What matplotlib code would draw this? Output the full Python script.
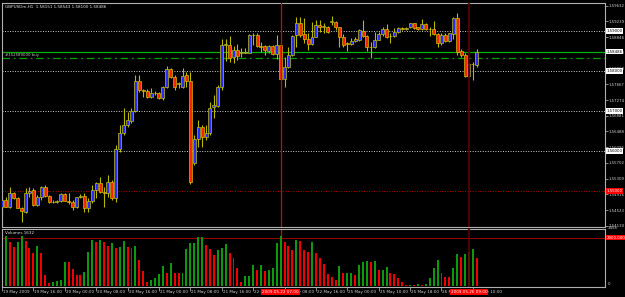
import matplotlib
matplotlib.use('Agg')
import matplotlib.pyplot as plt
from matplotlib.patches import Rectangle
import matplotlib.transforms as mtransforms

# ---------------- data ----------------
title_text = "GBPUSDm,H1  1.58151 1.58543 1.58100 1.58486"
order_label = "#152589000 buy"
volume_title = "Volumes 1632"

opens = [1.5461,1.5478,1.5461,1.5494,1.5482,1.5458,1.5448,1.5496,1.5503,1.5465,
         1.5486,1.5511,1.5488,1.5473,1.5472,1.5476,1.5492,1.5476,1.5472,1.5459,
         1.5486,1.5488,1.5457,1.5475,1.5503,1.5519,1.5498,1.5496,1.5523,1.5482,
         1.5604,1.5646,1.5665,1.5676,1.5700,1.5776,1.5753,1.5751,1.5736,1.5746,
         1.5746,1.5732,1.5761,1.5804,1.5786,1.5768,1.5761,1.5790,1.5776,1.5569,
         1.5629,1.5659,1.5636,1.5644,1.5709,1.5713,1.5759,1.5865,1.5865,1.5836,
         1.5853,1.5844,1.5846,1.5846,1.5890,1.5890,1.5863,1.5863,1.5851,1.5863,
         1.5842,1.5865,1.5779,1.5811,1.5840,1.5890,1.5919,1.5892,1.5879,1.5867,
         1.5886,1.5915,1.5911,1.5909,1.5923,1.5923,1.5909,1.5886,1.5869,1.5868,
         1.5876,1.5878,1.5901,1.5888,1.5861,1.5859,1.5878,1.5892,1.5904,1.5888,
         1.5888,1.5897,1.5908,1.5904,1.5909,1.5919,1.5909,1.5904,1.5918,1.5906,
         1.5906,1.5892,1.5869,1.5890,1.5876,1.5893,1.5932,1.5851,1.5840,1.5788,
         1.5818,1.58151]
highs = [1.5488,1.5484,1.5511,1.5498,1.5486,1.5461,1.5507,1.5511,1.5507,1.5490,
         1.5513,1.5515,1.5490,1.5478,1.5478,1.5494,1.5494,1.5494,1.5478,1.5486,
         1.5493,1.5494,1.5482,1.5515,1.5523,1.5536,1.5511,1.5540,1.5528,1.5615,
         1.5665,1.5707,1.5698,1.5707,1.5790,1.5790,1.5754,1.5754,1.5757,1.5751,
         1.5748,1.5763,1.5813,1.5807,1.5790,1.5773,1.5807,1.5798,1.5798,1.5640,
         1.5678,1.5665,1.5665,1.5723,1.5740,1.5765,1.5879,1.5879,1.5888,1.5863,
         1.5867,1.5857,1.5857,1.5892,1.5894,1.5894,1.5873,1.5865,1.5865,1.5865,
         1.5890,1.5868,1.5834,1.5861,1.5890,1.5936,1.5936,1.5932,1.5894,1.5923,
         1.5928,1.5928,1.5921,1.5913,1.5938,1.5926,1.5911,1.5892,1.5873,1.5882,
         1.5886,1.5904,1.5928,1.5890,1.5873,1.5898,1.5898,1.5909,1.5918,1.5894,
         1.5907,1.5911,1.5911,1.5911,1.5921,1.5921,1.5911,1.5930,1.5919,1.5909,
         1.5925,1.5894,1.5894,1.5894,1.5896,1.5936,1.5944,1.5854,1.5844,1.5819,
         1.5823,1.58543]
lows = [1.5434,1.5459,1.5457,1.5479,1.5457,1.5423,1.5444,1.5486,1.5463,1.5463,
        1.5478,1.5486,1.5469,1.5469,1.5469,1.5473,1.5474,1.5468,1.5453,1.5457,
        1.5482,1.5448,1.5448,1.5469,1.5482,1.5494,1.5461,1.5486,1.5478,1.5473,
        1.5598,1.5640,1.5661,1.5669,1.5698,1.5748,1.5736,1.5732,1.5732,1.5740,
        1.5729,1.5728,1.5757,1.5782,1.5753,1.5757,1.5757,1.5761,1.5518,1.5565,
        1.5611,1.5611,1.5628,1.5640,1.5682,1.5709,1.5753,1.5826,1.5823,1.5821,
        1.5828,1.5836,1.5844,1.5844,1.5865,1.5861,1.5848,1.5840,1.5844,1.5840,
        1.5829,1.5778,1.5759,1.5807,1.5838,1.5861,1.5886,1.5869,1.5853,1.5865,
        1.5884,1.5898,1.5894,1.5896,1.5915,1.5903,1.5861,1.5861,1.5851,1.5865,
        1.5873,1.5876,1.5886,1.5851,1.5832,1.5857,1.5878,1.5888,1.5882,1.5871,
        1.5886,1.5896,1.5903,1.5903,1.5907,1.5904,1.5903,1.5903,1.5903,1.5888,
        1.5889,1.5859,1.5865,1.5873,1.5873,1.5880,1.5840,1.5836,1.5786,1.5786,
        1.5778,1.58100]
closes = [1.5478,1.5461,1.5494,1.5482,1.5458,1.5451,1.5496,1.5501,1.5465,1.5486,
          1.5511,1.5488,1.5473,1.5472,1.5474,1.5492,1.5476,1.5472,1.5459,1.5484,
          1.5488,1.5457,1.5475,1.5503,1.5519,1.5498,1.5496,1.5523,1.5482,1.5604,
          1.5646,1.5665,1.5678,1.5700,1.5776,1.5753,1.5750,1.5736,1.5746,1.5744,
          1.5732,1.5761,1.5804,1.5786,1.5761,1.5769,1.5788,1.5776,1.5523,1.5629,
          1.5659,1.5636,1.5644,1.5707,1.5714,1.5759,1.5865,1.5867,1.5832,1.5853,
          1.5838,1.5848,1.5847,1.5890,1.5891,1.5863,1.5861,1.5853,1.5863,1.5842,
          1.5865,1.5779,1.5811,1.5840,1.5888,1.5919,1.5890,1.5879,1.5867,1.5886,
          1.5915,1.5911,1.5912,1.5898,1.5925,1.5909,1.5886,1.5865,1.5868,1.5876,
          1.5879,1.5903,1.5888,1.5861,1.5859,1.5878,1.5892,1.5904,1.5886,1.5887,
          1.5897,1.5908,1.5904,1.5908,1.5919,1.5907,1.5904,1.5917,1.5904,1.5904,
          1.5892,1.5869,1.5890,1.5876,1.5894,1.5933,1.5847,1.5840,1.5788,1.5818,
          1.5817,1.58486]
volumes = [2360,3000,2620,2360,2660,3000,2700,2260,1980,2400,
           1980,660,200,240,300,360,1460,1420,1020,660,
           640,860,2020,2780,2660,2780,2660,2400,2560,2300,
           2320,2700,2340,2300,2400,1580,880,260,340,500,
           700,1220,800,1400,800,760,800,2220,2560,2580,
           2920,2960,2460,2220,1860,2160,2300,2520,1980,1660,
           1060,260,600,620,1260,960,1260,920,940,1060,
           2560,3000,2660,2400,2160,2760,
           2700,2160,2020,2660,1980,1660,1300,700,560,360,
           1220,760,780,800,660,1260,1420,1500,1460,1520,
           960,980,1120,760,740,500,220,60,80,60,
           100,60,120,460,1060,1580,760,560,520,1060,
           1900,1740,1900,2020,2220,1700]

price_ticks = [1.54130,1.54523,1.54916,1.55309,1.55702,1.56095,1.56488,1.56881,
               1.57274,1.57667,1.58060,1.58453,1.58846,1.59239,1.59632]
grid_levels = [1.59, 1.58, 1.57, 1.56]
red_level = 1.55
bid_level = 1.58486
order_level = 1.58325
time_tick_idx = [0,8,16,24,32,40,48,56,64,72,80,88,96,104,112,120]
time_tick_labels = ["19 May 2009","19 May 16:00","20 May 00:00","20 May 08:00",
                    "20 May 16:00","21 May 00:00","21 May 08:00","21 May 16:00",
                    "22 May 00:00","22 May 08:00","22 May 16:00","25 May 00:00",
                    "25 May 10:00","25 May 18:00","26 May 02:00","26 May 10:00"]
vline_idx = [71, 119]
vline_labels = ["2009.05.22 07:00", "2009.05.26 09:00"]
vol_axis_max = 3458
vol_level = 2900

# ---------------- figure ----------------
W, H = 625, 297
fig = plt.figure(figsize=(W/100, H/100), dpi=100, facecolor='black')
FS = 2.8
GRAY = '#c0c0c0'

ax1 = fig.add_axes([2/W, 70/H, 603/W, 224/H], facecolor='black')
ax2 = fig.add_axes([2/W, 10/H, 603/W, 58/H], facecolor='black', sharex=ax1)

n = len(opens)
xs = list(range(n))
for i in xs:
    o, h, l, c = opens[i], highs[i], lows[i], closes[i]
    ax1.vlines(i, l, h, color='#b8b800', lw=0.8, zorder=2)
    bull = c >= o
    bottom = min(o, c)
    height = abs(c - o)
    if height < 0.00008:
        ax1.hlines(o, i - 0.38, i + 0.38, color='#d8d800', lw=0.8, zorder=3)
    else:
        ax1.add_patch(Rectangle((i - 0.38, bottom), 0.76, height,
                                facecolor='#2a2aff' if bull else '#ff2200',
                                edgecolor='#d0d000', lw=0.45, zorder=3))

xl = (2 - 1.7) / 3.926
xr = (605 - 1.7) / 3.926
ax1.set_xlim(xl, xr)
ax1.set_ylim(1.541, 1.597)

for lv in grid_levels:
    ax1.axhline(lv, color='#d0d0d0', lw=0.7, ls=(0, (1, 1.6)), zorder=1)
ax1.axhline(red_level, color='#c00000', lw=0.7, ls=(0, (1, 1.6)), zorder=1)
ax1.axhline(bid_level, color='#00b400', lw=0.9, zorder=1)
ax1.axhline(order_level, color='#00a000', lw=0.9, ls=(0, (6, 3, 1.5, 3)), zorder=1)

# vertical lines
ax1.axvline(vline_idx[0], color='#e00000', lw=0.9, zorder=4)
ax2.axvline(vline_idx[0], color='#e00000', lw=0.9, zorder=1)
ax1.axvline(vline_idx[1], color='#5a0000', lw=1.6, alpha=0.85, zorder=4)
ax2.axvline(vline_idx[1], color='#5a0000', lw=1.6, alpha=0.85, zorder=4)

# texts on main chart
ax1.text(3/603, 1 - 4/224, title_text, transform=ax1.transAxes, color='#e0e0e0',
         fontsize=FS + 0.2, ha='left', va='center')
ax1.text(3/603, order_level + 0.0008, order_label,
         transform=mtransforms.blended_transform_factory(ax1.transAxes, ax1.transData),
         color='#c0c0c0', fontsize=FS, ha='left', va='center')

# price axis
ax1.yaxis.tick_right()
ax1.set_yticks(price_ticks)
ax1.set_yticklabels([f"{p:.5f}" for p in price_ticks])
ax1.tick_params(axis='y', colors=GRAY, labelsize=FS, length=2, width=0.5, pad=0.8,
                labelcolor='#d0d0d0')
ax1.tick_params(axis='x', bottom=False, labelbottom=False)

bt = mtransforms.blended_transform_factory(ax1.transAxes, ax1.transData)
XB = 1 + 1.5/603
for lv in grid_levels:
    ax1.text(XB, lv, f"{lv:.5f}", transform=bt, fontsize=FS, color='black',
             ha='left', va='center', clip_on=False, zorder=10,
             bbox=dict(boxstyle='square,pad=0.15', fc='white', ec='none'))
ax1.text(XB, bid_level, f"{bid_level:.5f}", transform=bt, fontsize=FS, color='black',
         ha='left', va='center', clip_on=False, zorder=10,
         bbox=dict(boxstyle='square,pad=0.15', fc='white', ec='none'))
ax1.text(XB, red_level, f"{red_level:.5f}", transform=bt, fontsize=FS, color='white',
         ha='left', va='center', clip_on=False, zorder=10,
         bbox=dict(boxstyle='square,pad=0.15', fc='#ff0000', ec='none'))

for sp in ax1.spines.values():
    sp.set_color('#b0b0b0'); sp.set_linewidth(0.8)

# ---------------- volume panel ----------------
vcolors = []
for i, v in enumerate(volumes):
    if i == 0 or v > volumes[i - 1]:
        vcolors.append('#0c9a0c')
    else:
        vcolors.append('#f20000')
ax2.bar(xs, volumes, width=0.5, color=vcolors, zorder=2)
ax2.set_ylim(-60, 3420)
ax2.axhline(vol_level, color='#a00000', lw=0.7, zorder=1)
ax2.text(3/603, 1 - 4/58, volume_title, transform=ax2.transAxes, color='#e0e0e0',
         fontsize=FS + 0.2, ha='left', va='center')
ax2.set_yticks([])
bt2 = mtransforms.blended_transform_factory(ax2.transAxes, ax2.transData)
ax2.text(XB + 1/603, vol_axis_max, str(vol_axis_max), transform=bt2, fontsize=FS,
         color='#d0d0d0', ha='left', va='center', clip_on=False)
ax2.text(XB + 1/603, 120, "0", transform=bt2, fontsize=FS,
         color='#d0d0d0', ha='left', va='center', clip_on=False)
ax2.text(XB, vol_level, f"{vol_level:.3f}", transform=bt2, fontsize=FS, color='white',
         ha='left', va='center', clip_on=False, zorder=10,
         bbox=dict(boxstyle='square,pad=0.15', fc='#ff0000', ec='none'))
for sp in ax2.spines.values():
    sp.set_color('#b0b0b0'); sp.set_linewidth(0.8)

# time axis
ax2.set_xticks(time_tick_idx)
ax2.set_xticklabels([])
ax2.tick_params(axis='x', colors=GRAY, length=3, width=0.5)
bx = mtransforms.blended_transform_factory(ax2.transData, ax2.transAxes)
for idx, lab in zip(time_tick_idx, time_tick_labels):
    ax2.text(idx + 0.25, -0.05, lab, transform=bx, fontsize=FS + 0.2, color='#d0d0d0',
             ha='left', va='top', clip_on=False, zorder=3)
for idx, lab in zip(vline_idx, vline_labels):
    ax2.text(idx, -0.05, lab, transform=bx, fontsize=FS + 0.2, color='white',
             ha='center', va='top', clip_on=False, zorder=10,
             bbox=dict(boxstyle='square,pad=0.25', fc='#ff0000', ec='none'))

fig.savefig('out.png', dpi=100, facecolor='black')
